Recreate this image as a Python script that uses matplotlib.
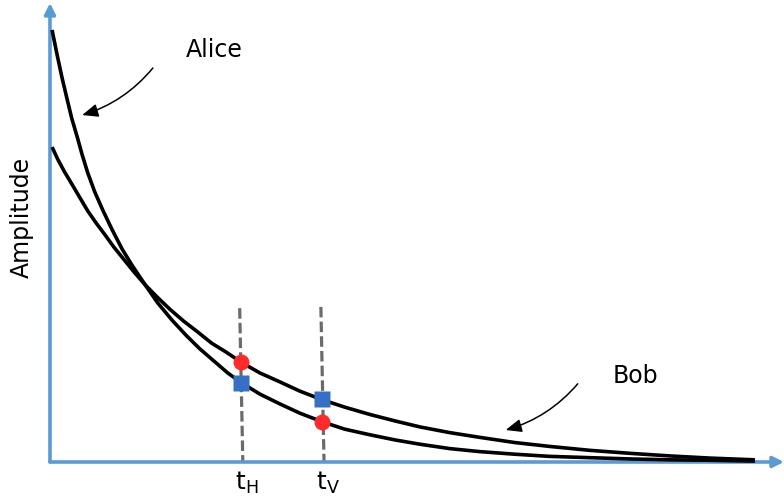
import matplotlib.pyplot as plt

# curve samples (time, amplitude)
alice_t = [0.03, 0.10, 0.17, 0.24, 0.31, 0.39, 0.46, 0.54, 0.64, 0.76, 0.89,
           1.03, 1.17, 1.36, 1.54, 1.74, 1.94, 2.14, 2.34, 2.54, 2.74, 3.00,
           3.29, 3.57, 3.89, 4.21, 4.57, 4.93, 5.29, 5.71, 6.14, 6.64, 7.14,
           7.71, 8.29, 8.86, 9.43, 10.07]
alice_a = [1.000, 0.944, 0.891, 0.843, 0.796, 0.752, 0.711, 0.669, 0.625, 0.581,
           0.537, 0.493, 0.456, 0.410, 0.368, 0.329, 0.294, 0.262, 0.234, 0.206,
           0.183, 0.157, 0.134, 0.113, 0.093, 0.076, 0.063, 0.051, 0.041, 0.031,
           0.024, 0.018, 0.013, 0.010, 0.007, 0.005, 0.004, 0.002]

bob_t = [0.03, 0.11, 0.21, 0.31, 0.43, 0.54, 0.66, 0.79, 0.91, 1.06, 1.20,
         1.36, 1.53, 1.71, 1.91, 2.11, 2.31, 2.51, 2.73, 3.00, 3.29, 3.57,
         3.89, 4.21, 4.57, 4.93, 5.29, 5.71, 6.14, 6.64, 7.14, 7.71, 8.29,
         8.86, 9.43, 10.07]
bob_a = [0.729, 0.701, 0.671, 0.644, 0.611, 0.581, 0.553, 0.525, 0.498, 0.468,
         0.440, 0.410, 0.382, 0.354, 0.326, 0.301, 0.275, 0.255, 0.231, 0.206,
         0.185, 0.164, 0.144, 0.127, 0.110, 0.095, 0.081, 0.068, 0.057, 0.045,
         0.036, 0.027, 0.020, 0.014, 0.009, 0.005]

# sampling instants and the points picked on each curve
t_marks = [2.73, 3.89]
tick_labels = [r'$\mathrm{t}_\mathrm{H}$', r'$\mathrm{t}_\mathrm{V}$']
circle_a = [0.231, 0.093]
square_a = [0.183, 0.146]
guide_top = [0.356, 0.359]

axis_blue = '#5B9BD5'

fig = plt.figure(figsize=(7.84, 5.01), dpi=100)
ax = fig.add_axes([0, 0, 1, 1])
ax.set_xlim(-0.714, 10.486)
ax.set_ylim(-0.0903, 1.0694)
ax.axis('off')

# axes drawn as arrows
ax.annotate('', xy=(0, 1.0625), xytext=(0, 0),
            arrowprops=dict(arrowstyle='-|>', color=axis_blue, lw=2.6,
                            mutation_scale=16, shrinkA=0, shrinkB=0))
ax.annotate('', xy=(10.486, 0), xytext=(0, 0),
            arrowprops=dict(arrowstyle='-|>', color=axis_blue, lw=2.6,
                            mutation_scale=16, shrinkA=0, shrinkB=0))

# slightly slanted dashed guides
for t, top in zip(t_marks, guide_top):
    ax.plot([t - 0.02, t + 0.025], [top, 0], color='#6b6b6b', lw=2.3,
            dashes=(3.3, 1.3), zorder=2)

ax.plot(alice_t, alice_a, color='black', lw=2.6, solid_capstyle='butt', zorder=3)
ax.plot(bob_t, bob_a, color='black', lw=2.6, solid_capstyle='butt', zorder=3)

ax.plot(t_marks, circle_a, 'o', color='#FF2A2A', ms=11.5, mec='none', zorder=4)
ax.plot(t_marks, square_a, 's', color='#3670C6', ms=11, mec='none', zorder=4)

for t, lab in zip(t_marks, tick_labels):
    ax.text(t + 0.08, -0.049, lab, fontsize=18, ha='center', va='center')

ax.text(-0.4, 0.565, 'Amplitude', fontsize=17, rotation=90,
        ha='center', va='center')

ax.text(2.35, 0.954, 'Alice', fontsize=17, ha='center', va='center')
ax.text(8.37, 0.199, 'Bob', fontsize=17, ha='center', va='center')

arrow_kw = dict(arrowstyle='-|>,head_length=0.6,head_width=0.25', color='black',
                lw=1.1, mutation_scale=16, shrinkA=0, shrinkB=0,
                connectionstyle='arc3,rad=-0.15')
ax.annotate('', xy=(0.46, 0.803), xytext=(1.47, 0.912), arrowprops=arrow_kw)
ax.annotate('', xy=(6.51, 0.074), xytext=(7.54, 0.181), arrowprops=arrow_kw)

fig.savefig('out.png', dpi=100)
